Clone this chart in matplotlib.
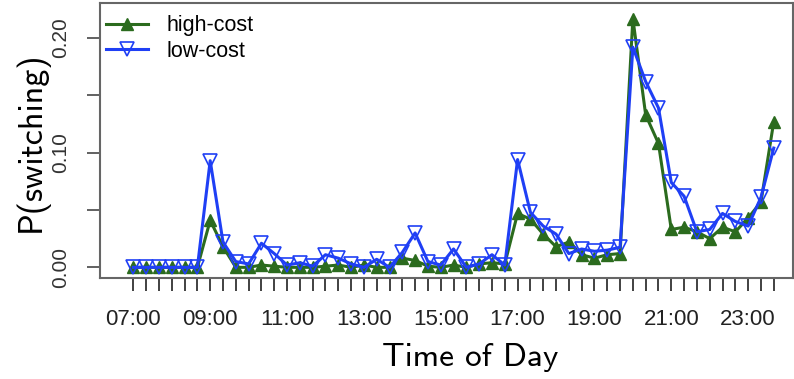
import matplotlib
matplotlib.use("Agg")
import matplotlib.pyplot as plt
import numpy as np

# P(switching) per 20-minute slot, 07:00 .. 23:40
high_cost = [0.0, 0.0, 0.0, 0.0, 0.0, 0.0, 0.041, 0.018, 0.0, 0.0,
             0.002, 0.001, 0.0, 0.0, 0.0, 0.001, 0.002, 0.0, 0.002, 0.0,
             0.0, 0.008, 0.006, 0.001, 0.0, 0.002, 0.0, 0.003, 0.004, 0.003,
             0.047, 0.042, 0.029, 0.018, 0.022, 0.011, 0.008, 0.011, 0.012, 0.217,
             0.133, 0.108, 0.033, 0.035, 0.031, 0.025, 0.035, 0.031, 0.043, 0.057,
             0.127]
low_cost = [0.0, 0.0, 0.0, 0.0, 0.0, 0.0, 0.093, 0.022, 0.005, 0.003,
            0.021, 0.012, 0.002, 0.004, 0.001, 0.011, 0.008, 0.003, 0.0, 0.007,
            0.0, 0.013, 0.030, 0.005, 0.002, 0.016, 0.0, 0.003, 0.011, 0.002,
            0.094, 0.048, 0.036, 0.029, 0.012, 0.016, 0.014, 0.015, 0.0175, 0.192,
            0.162, 0.139, 0.074, 0.062, 0.031, 0.033, 0.047, 0.040, 0.036, 0.061,
            0.104]
time_labels = ["07:00", "09:00", "11:00", "13:00", "15:00",
               "17:00", "19:00", "21:00", "23:00"]
slots_per_label = 6  # labels every 2 hours, slots of 20 min

green = "#2b6b1e"
blue = "#1f3ff5"

fig = plt.figure(figsize=(7.94, 3.79), dpi=100)
ax = fig.add_axes([0.126, 0.2665, 0.8727, 0.7255])

x = np.arange(len(high_cost))
ax.plot(x, high_cost, color=green, linewidth=2.2, marker="^", markersize=8,
        markerfacecolor=green, markeredgecolor=green, label="high-cost")
ax.plot(x, low_cost, color=blue, linewidth=2.2, marker="v", markersize=9.5,
        markerfacecolor="none", markeredgecolor=blue, markeredgewidth=1.2,
        label="low-cost")

ax.set_xlim(-2.6, 51.5)
ax.set_ylim(-0.0093, 0.2305)

xt_labels = [""] * len(x)
for k, lab in enumerate(time_labels):
    xt_labels[k * slots_per_label] = lab
ax.set_xticks(x)
ax.set_xticklabels(xt_labels, fontfamily="Liberation Sans", fontsize=16,
                   color="#222222")
ax.tick_params(axis="x", direction="out", length=9.5, width=1.3,
               color="#333333", pad=13)

ax.set_yticks([0.0, 0.05, 0.10, 0.15, 0.20])
ax.set_yticklabels(["0.00", "", "0.10", "", "0.20"], rotation=90, va="center",
                   fontfamily="Liberation Sans", fontsize=15, color="#333333")
ax.tick_params(axis="y", direction="out", length=9.5, width=1.3,
               color="#555555", pad=12)

for s in ax.spines.values():
    s.set_color("#666666")
    s.set_linewidth(1.5)

ax.set_xlabel("Time of Day", fontfamily=["cmss10", "DejaVu Sans"], fontsize=24)
ax.set_ylabel("P(switching)", fontfamily=["cmss10", "DejaVu Sans"], fontsize=24.5)
ax.yaxis.set_label_coords(-0.074, 0.495)
ax.xaxis.set_label_coords(0.534, -0.235)

ax.legend(loc="upper left", bbox_to_anchor=(0.0087, 0.955), borderaxespad=0,
          borderpad=0, frameon=False, handlelength=1.95, handletextpad=0.85,
          labelspacing=0.2, prop={"family": "Liberation Sans", "size": 15.5})

fig.savefig("out.png", dpi=100)
